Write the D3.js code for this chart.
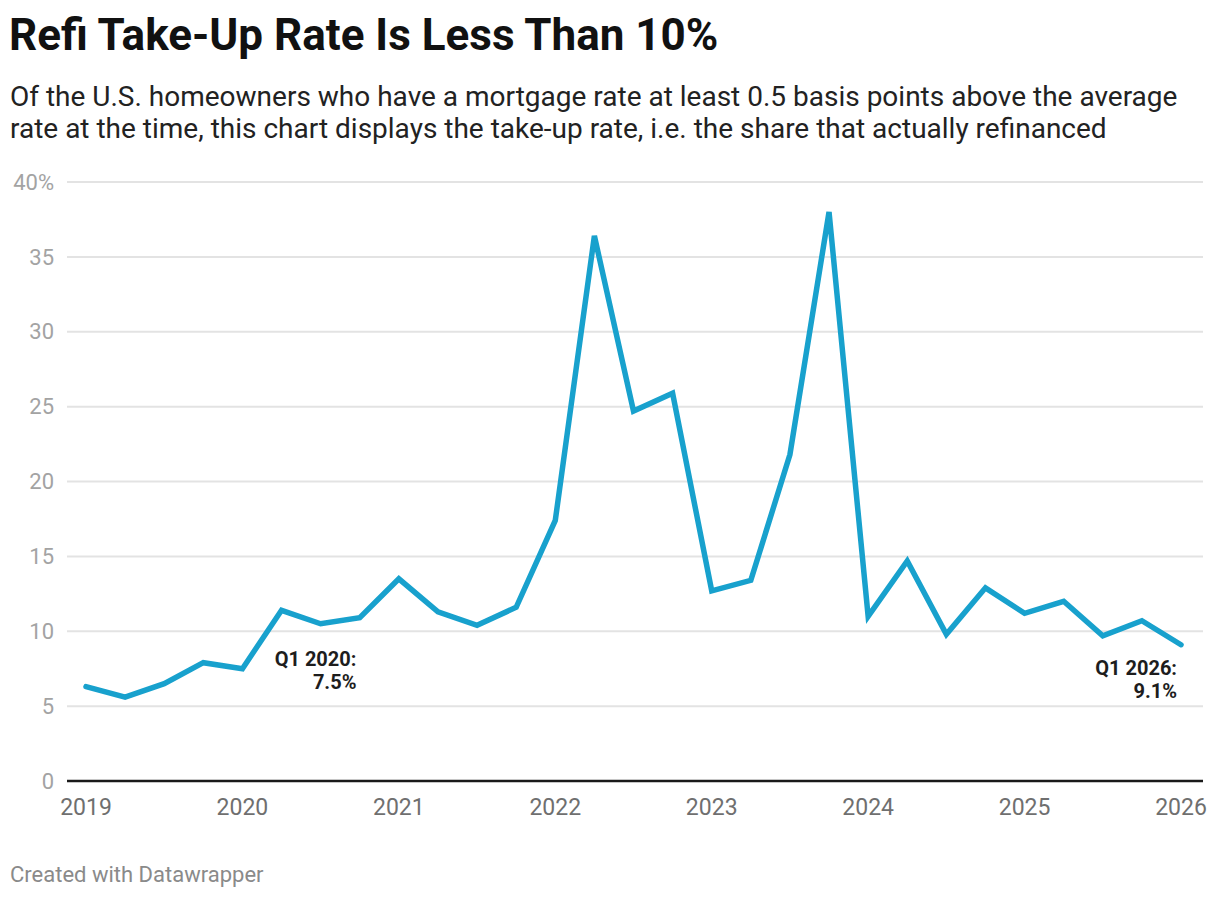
<!DOCTYPE html>
<html>
<head>
<meta charset="utf-8">
<script src="https://cdn.jsdelivr.net/npm/d3@7"></script>
<style>
  body { margin: 0; background: #fff; font-family: Roboto, 'Noto Sans', sans-serif; }
  .title { font-size: 44px; font-weight: 700; fill: #111; }
  .subtitle { font-size: 28px; fill: #222; }
  .y-tick text { font-size: 22px; fill: #a3a3a3; }
  .x-tick text { font-size: 23px; fill: #6f6f6f; }
  .annot { font-size: 20px; font-weight: 700; fill: #1d1d1d; }
  .footer { font-size: 22px; fill: #8a8a8a; }
</style>
</head>
<body>
<div id="chart"></div>
<script>
'use strict'

const WIDTH = 1220
const HEIGHT = 898

const titleText = 'Refi Take-Up Rate Is Less Than 10%'
const subtitleLines = [
  'Of the U.S. homeowners who have a mortgage rate at least 0.5 basis points above the average',
  'rate at the time, this chart displays the take-up rate, i.e. the share that actually refinanced'
]
const footerText = 'Created with Datawrapper'

const quarters = [
  'Q1 2019', 'Q2 2019', 'Q3 2019', 'Q4 2019',
  'Q1 2020', 'Q2 2020', 'Q3 2020', 'Q4 2020',
  'Q1 2021', 'Q2 2021', 'Q3 2021', 'Q4 2021',
  'Q1 2022', 'Q2 2022', 'Q3 2022', 'Q4 2022',
  'Q1 2023', 'Q2 2023', 'Q3 2023', 'Q4 2023',
  'Q1 2024', 'Q2 2024', 'Q3 2024', 'Q4 2024',
  'Q1 2025', 'Q2 2025', 'Q3 2025', 'Q4 2025',
  'Q1 2026'
]
const takeUpRate = [
  6.3, 5.6, 6.5, 7.9,
  7.5, 11.4, 10.5, 10.9,
  13.5, 11.3, 10.4, 11.6,
  17.4, 36.4, 24.7, 25.9,
  12.7, 13.4, 21.8, 38.0,
  11.0, 14.7, 9.8, 12.9,
  11.2, 12.0, 9.7, 10.7,
  9.1
]
const xTicks = [2019, 2020, 2021, 2022, 2023, 2024, 2025, 2026]
const yTicks = [0, 5, 10, 15, 20, 25, 30, 35, 40]
const annotationQuarters = ['Q1 2020', 'Q1 2026']
const annotationLines = [
  ['Q1 2020:', '7.5%'],
  ['Q1 2026:', '9.1%']
]

function quarterToYear (q) {
  const parts = q.split(' ')
  return +parts[1] + (+parts[0].slice(1) - 1) / 4
}

const data = quarters.map((q, i) => ({ q: q, t: quarterToYear(q), v: takeUpRate[i] }))

const gridLeft = 67
const gridRight = 1203

const x = d3.scaleLinear().domain([2019, 2026]).range([86, 1181])
const y = d3.scaleLinear().domain([0, 40]).range([781, 182])

const svg = d3.select('#chart')
  .append('svg')
  .attr('width', WIDTH)
  .attr('height', HEIGHT)

// header
svg.append('text')
  .attr('class', 'title')
  .attr('x', 9)
  .attr('y', 50)
  .text(titleText)

svg.append('text')
  .attr('class', 'subtitle')
  .selectAll('tspan')
  .data(subtitleLines)
  .enter()
  .append('tspan')
  .attr('x', 10)
  .attr('y', (d, i) => 106 + i * 32)
  .text((d) => d)

// y grid + labels
const yAxis = svg.append('g')
  .selectAll('g')
  .data(yTicks)
  .enter()
  .append('g')
  .attr('class', 'y-tick')
  .attr('transform', (d) => `translate(0,${y(d)})`)

yAxis.filter((d) => d !== 0)
  .append('line')
  .attr('x1', gridLeft)
  .attr('x2', gridRight)
  .attr('stroke', '#e3e3e3')
  .attr('stroke-width', 2)

yAxis.append('text')
  .attr('x', 54)
  .attr('dy', '0.35em')
  .attr('text-anchor', 'end')
  .text((d) => d === 40 ? d + '%' : d)

// x labels
svg.append('g')
  .selectAll('g')
  .data(xTicks)
  .enter()
  .append('g')
  .attr('class', 'x-tick')
  .attr('transform', (d) => `translate(${x(d)},0)`)
  .append('text')
  .attr('y', 815)
  .attr('text-anchor', 'middle')
  .text((d) => d)

// line
const line = d3.line()
  .x((d) => x(d.t))
  .y((d) => y(d.v))

svg.append('path')
  .datum(data)
  .attr('d', line)
  .attr('fill', 'none')
  .attr('stroke', '#18a1cd')
  .attr('stroke-width', 5.5)
  .attr('stroke-linejoin', 'miter')
  .attr('stroke-linecap', 'round')

// baseline
svg.append('line')
  .attr('x1', gridLeft)
  .attr('x2', gridRight)
  .attr('y1', y(0))
  .attr('y2', y(0))
  .attr('stroke', '#1a1a1a')
  .attr('stroke-width', 2.5)

// annotations
const annotOffsets = [
  { dx: 114, dy: -3 },
  { dx: -4, dy: 30 }
]
annotationQuarters.forEach((q, i) => {
  const d = data.find((p) => p.q === q)
  const t = svg.append('text')
    .attr('class', 'annot')
    .attr('text-anchor', 'end')
  annotationLines[i].forEach((s, j) => {
    t.append('tspan')
      .attr('x', x(d.t) + annotOffsets[i].dx)
      .attr('y', y(d.v) + annotOffsets[i].dy + j * 23)
      .text(s)
  })
})

// footer
svg.append('text')
  .attr('class', 'footer')
  .attr('x', 10)
  .attr('y', 882)
  .text(footerText)
</script>
</body>
</html>
